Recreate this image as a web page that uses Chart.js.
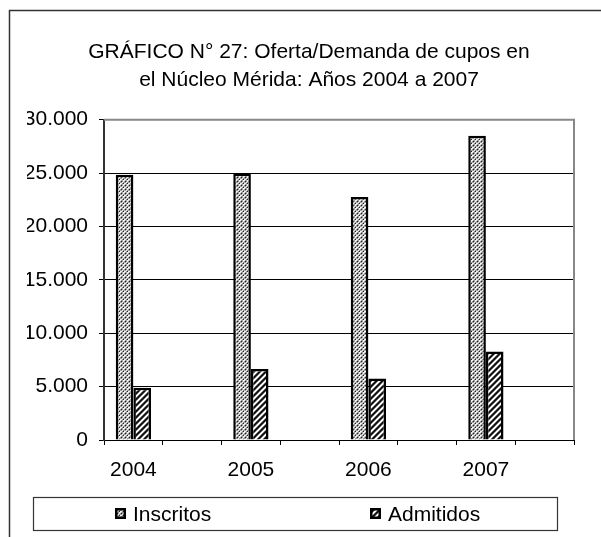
<!DOCTYPE html>
<html>
<head>
<meta charset="utf-8">
<script src="https://cdn.jsdelivr.net/npm/chart.js@4"></script>
<style>
  html, body { margin: 0; padding: 0; background: #fff; }
  #wrap { width: 601px; height: 537px; }
</style>
</head>
<body>
<div id="wrap"><canvas id="grafico" width="601" height="537"></canvas></div>
<script>
// datos (filas vacias entre años, como en la hoja original)
const categorias = ['2004', '', '2005', '', '2006', '', '2007', ''];
const inscritos = [24850, null, 24950, null, 22750, null, 28500, null];
const admitidos = [4900, null, 6650, null, 5750, null, 8300, null];
const ticksY = [0, 5000, 10000, 15000, 20000, 25000, 30000];
const titulo = ['GRÁFICO N° 27: Oferta/Demanda de cupos en', 'el Núcleo Mérida: Años 2004 a 2007'];

// trama de puntos para Inscritos
function tramaPuntos() {
  const c = document.createElement('canvas');
  c.width = 4; c.height = 4;
  const g = c.getContext('2d');
  g.fillStyle = '#f0f0f0';
  g.fillRect(0, 0, 4, 4);
  g.fillStyle = '#999';
  g.fillRect(0, 1, 3, 1); g.fillRect(1, 0, 1, 3);
  g.fillRect(2, 3, 3, 1); g.fillRect(3, 2, 1, 3);
  g.fillRect(2, 0, 1, 1); g.fillRect(0, 2, 1, 1);
  g.fillStyle = '#222';
  g.fillRect(1, 1, 1, 1);
  g.fillRect(3, 3, 1, 1);
  return g.createPattern(c, 'repeat');
}

// trama diagonal para Admitidos
function tramaDiagonal() {
  const c = document.createElement('canvas');
  c.width = 6; c.height = 6;
  const g = c.getContext('2d');
  for (let x = 0; x < 6; x++) {
    for (let y = 0; y < 6; y++) {
      const k = (x + y) % 6;
      g.fillStyle = (k === 0 || k === 1) ? '#111' : (k === 2 || k === 5) ? '#777' : '#fff';
      g.fillRect(x, y, 1, 1);
    }
  }
  return g.createPattern(c, 'repeat');
}

const marco = {
  id: 'marco',
  beforeDraw(chart) {
    const ctx = chart.ctx;
    ctx.save();
    ctx.strokeStyle = '#333';
    ctx.lineWidth = 1.5;
    ctx.strokeRect(9.5, 10.5, 800, 800);
    ctx.restore();
  },
  afterDraw(chart) {
    const ctx = chart.ctx;
    const a = chart.chartArea;
    ctx.save();
    // borde gris del area de trazado
    ctx.strokeStyle = '#888';
    ctx.lineWidth = 2;
    ctx.beginPath();
    ctx.moveTo(a.left, a.top);
    ctx.lineTo(a.right, a.top);
    ctx.lineTo(a.right, a.bottom);
    ctx.stroke();

    // leyenda con recuadro
    ctx.strokeStyle = '#333';
    ctx.lineWidth = 1.2;
    ctx.strokeRect(33.5, 497.5, 524, 33);
    const pos = [115, 370];
    ctx.font = '21px "Liberation Sans", Arial, sans-serif';
    ctx.textBaseline = 'middle';
    chart.data.datasets.forEach((ds, i) => {
      const x = pos[i];
      ctx.fillStyle = '#000';
      ctx.fillRect(x, 508, 11, 11);
      ctx.fillStyle = ds.backgroundColor;
      ctx.fillRect(x + 2.5, 510.5, 6, 6);
      ctx.fillStyle = '#000';
      ctx.fillText(ds.label, x + 18, 515);
    });
    ctx.restore();
  }
};

Chart.defaults.font.family = '"Liberation Sans", Arial, sans-serif';
Chart.defaults.color = '#000';

const ctx = document.getElementById('grafico').getContext('2d');
new Chart(ctx, {
  type: 'bar',
  data: {
    labels: categorias,
    datasets: [{
      label: 'Inscritos',
      data: inscritos,
      backgroundColor: tramaPuntos(),
      borderColor: '#000',
      borderWidth: 2.5
    }, {
      label: 'Admitidos',
      data: admitidos,
      backgroundColor: tramaDiagonal(),
      borderColor: '#000',
      borderWidth: 2.5
    }]
  },
  options: {
    responsive: false,
    animation: false,
    layout: { padding: { top: 38, left: 27, right: 10, bottom: 0 } },
    datasets: {
      bar: { categoryPercentage: 0.6, barPercentage: 1.0 }
    },
    scales: {
      x: {
        grid: { offset: true, drawOnChartArea: false, drawTicks: true, tickLength: 5, color: '#000' },
        border: { color: '#000', width: 1 },
        ticks: { font: { size: 21 }, padding: 13, maxRotation: 0, autoSkip: false },
        afterFit(scale) { scale.height = 97; }
      },
      y: {
        min: 0,
        max: 30000,
        afterBuildTicks(scale) { scale.ticks = ticksY.map(v => ({ value: v })); },
        grid: { color: '#000', lineWidth: 1, tickLength: 5 },
        border: { color: '#333', width: 2 },
        ticks: {
          font: { size: 21 },
          padding: 11,
          callback: v => String(v).replace(/\B(?=(\d{3})+(?!\d))/g, '.')
        },
        afterFit(scale) { scale.width = 77; }
      },
      // eje vacio a la derecha solo para reservar margen
      derecha: {
        position: 'right',
        display: true,
        grid: { display: false },
        border: { display: false },
        ticks: { display: false },
        afterFit(scale) { scale.width = 17; }
      }
    },
    plugins: {
      legend: { display: false },
      tooltip: { enabled: false },
      title: {
        display: true,
        text: titulo,
        color: '#000',
        font: { size: 21, weight: 'normal', lineHeight: 1.35 },
        padding: { top: 0, bottom: 25 }
      }
    }
  },
  plugins: [marco]
});
</script>
</body>
</html>
